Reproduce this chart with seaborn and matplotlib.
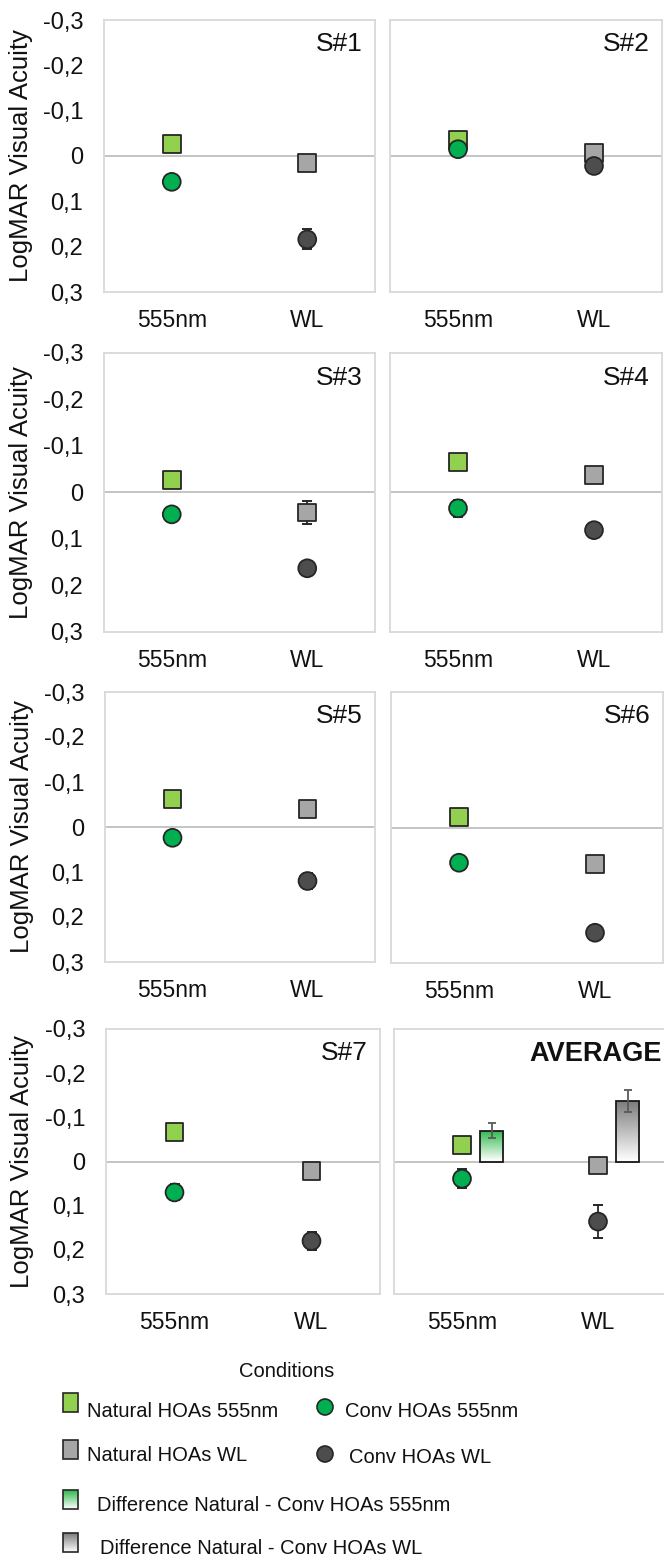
import numpy as np
import pandas as pd
import matplotlib
matplotlib.use("Agg")
import matplotlib.pyplot as plt
from matplotlib.colors import LinearSegmentedColormap
from matplotlib.patches import Rectangle, Circle
import seaborn as sns

# --- data (LogMAR, negative = better) ---
subjects = ["S#1", "S#2", "S#3", "S#4", "S#5", "S#6", "S#7", "AVERAGE"]
conditions = ["555nm", "WL"]

nat_555 = [-0.026, -0.035, -0.026, -0.066, -0.062, -0.024, -0.066, -0.038]
nat_wl = [0.015, -0.007, 0.043, -0.038, -0.040, 0.080, 0.022, 0.009]
conv_555 = [0.057, -0.015, 0.047, 0.034, 0.024, 0.078, 0.070, 0.039]
conv_wl = [0.184, 0.022, 0.163, 0.081, 0.120, 0.233, 0.180, 0.136]

nat_555_err = [0, 0, 0, 0, 0, 0, 0, 0]
nat_wl_err = [0, 0, 0.024, 0, 0.018, 0, 0, 0]
conv_555_err = [0, 0, 0, 0.018, 0, 0, 0.018, 0.022]
conv_wl_err = [0.022, 0, 0, 0, 0.018, 0, 0.02, 0.037]

# average difference Natural - Conv (bars, AVERAGE panel only)
diff_avg = [-0.070, -0.136]
diff_avg_err = [0.017, 0.025]

series = ["Natural HOAs 555nm", "Natural HOAs WL", "Conv HOAs 555nm", "Conv HOAs WL"]
series_cond = [0, 1, 0, 1]
series_vals = [nat_555, nat_wl, conv_555, conv_wl]
series_errs = [nat_555_err, nat_wl_err, conv_555_err, conv_wl_err]

colors = {"Natural HOAs 555nm": "#92D050", "Natural HOAs WL": "#A6A6A6",
          "Conv HOAs 555nm": "#00B050", "Conv HOAs WL": "#4D4D4D"}
markers = {"Natural HOAs 555nm": "s", "Natural HOAs WL": "s",
           "Conv HOAs 555nm": "o", "Conv HOAs WL": "o"}

rows = []
for name, c, vals, errs in zip(series, series_cond, series_vals, series_errs):
    for subj, v, e in zip(subjects, vals, errs):
        rows.append({"subject": subj, "series": name, "pos": c, "value": v, "err": e})
df = pd.DataFrame(rows)

sns.set_style("white")
plt.rcParams["font.family"] = ["Liberation Sans", "DejaVu Sans"]

W, H = 664, 1558
fig = plt.figure(figsize=(W / 100, H / 100), dpi=100)

# panel boxes in pixels: left, top, width, height
panel_px = [(104, 20, 271, 272), (390, 20, 272, 272),
            (104, 353, 271, 279), (390, 353, 272, 279),
            (105, 692, 270, 270), (391, 692, 272, 271),
            (106, 1029, 274, 265), (394, 1029, 272, 265)]

green_cmap = LinearSegmentedColormap.from_list("g", ["#2DB84A", "#FFFFFF"])
grey_cmap = LinearSegmentedColormap.from_list("k", ["#7A7A7A", "#FFFFFF"])
grad = np.linspace(0, 1, 256).reshape(-1, 1)

ytick_vals = [-0.3, -0.2, -0.1, 0, 0.1, 0.2, 0.3]
ytick_labels = ["-0,3", "-0,2", "-0,1", "0", "0,1", "0,2", "0,3"]

for i, (subj, (l, t, w, h)) in enumerate(zip(subjects, panel_px)):
    ax = fig.add_axes([l / W, 1 - (t + h) / H, w / W, h / H])
    d = df[df["subject"] == subj]

    ax.axhline(0, color="#BFBFBF", lw=1.3, zorder=1)

    de = d[d["err"] > 0]
    ax.errorbar(de["pos"], de["value"], yerr=de["err"], fmt="none", ecolor="#262626",
                elinewidth=1.3, capsize=3.3, capthick=1.4, zorder=3)

    sns.scatterplot(data=d, x="pos", y="value", hue="series", style="series",
                    palette=colors, markers=markers, s=165, edgecolor="#262626",
                    linewidth=1.3, legend=False, ax=ax, zorder=4)

    if subj == "AVERAGE":
        bar_x = np.arange(len(conditions)) + 0.22
        bars = ax.bar(bar_x, diff_avg, width=0.17, bottom=0, facecolor="none",
                      edgecolor="#1A1A1A", linewidth=1.3, zorder=5)
        for b, cmap in zip(bars, [green_cmap, grey_cmap]):
            x0 = b.get_x()
            x1 = x0 + b.get_width()
            im = ax.imshow(grad, cmap=cmap, aspect="auto", origin="upper",
                           extent=(x0, x1, 0, b.get_height()), zorder=4.5)
            im.set_clip_path(b)
        ax.errorbar(bar_x, diff_avg, yerr=diff_avg_err, fmt="none", ecolor="#5A5A5A",
                    elinewidth=1.3, capsize=3, capthick=1.3, zorder=6)
        ax.text(0.985, 0.955, subj, transform=ax.transAxes, ha="right", va="top",
                fontsize=19.5, fontweight="bold", color="#111111")
    else:
        ax.text(0.955, 0.955, subj, transform=ax.transAxes, ha="right", va="top",
                fontsize=19, color="#111111")

    ax.set_xlim(-0.5, 1.5)
    ax.set_ylim(0.3, -0.3)
    ax.set_xticks(range(len(conditions)))
    ax.set_xticklabels(conditions, fontsize=16.5, color="#111111")
    ax.set_yticks(ytick_vals)
    ax.tick_params(axis="both", length=0)
    ax.tick_params(axis="x", pad=12)
    ax.set_xlabel("")
    if i % 2 == 0:
        ax.set_yticklabels(ytick_labels, fontsize=17, color="#111111")
        ax.tick_params(axis="y", pad=15)
        ax.set_ylabel("LogMAR Visual Acuity", fontsize=18.5, color="#111111")
        ax.yaxis.set_label_coords(-0.262, 0.5)
    else:
        ax.set_yticklabels([])
        ax.set_ylabel("")
    for sp in ax.spines.values():
        sp.set_visible(True)
        sp.set_color("#D9D9D9")
        sp.set_linewidth(1.3)

# --- legend drawn in pixel coordinates ---
lax = fig.add_axes([0, 0, 1, 1])
lax.set_xlim(0, W)
lax.set_ylim(H, 0)
lax.axis("off")

lax.text(287, 1377, "Conditions", ha="center", va="baseline", fontsize=14.5, color="#111111")

fs = 14.5
lax.add_patch(Rectangle((63, 1393), 15, 19, facecolor=colors["Natural HOAs 555nm"],
                        edgecolor="#262626", lw=1.2))
lax.text(87, 1417, "Natural HOAs 555nm", va="baseline", fontsize=fs, color="#111111")
lax.add_patch(Circle((325, 1407), 8, facecolor=colors["Conv HOAs 555nm"],
                     edgecolor="#262626", lw=1.2))
lax.text(345, 1417, "Conv HOAs 555nm", va="baseline", fontsize=fs, color="#111111")

lax.add_patch(Rectangle((63, 1440), 15, 19, facecolor=colors["Natural HOAs WL"],
                        edgecolor="#262626", lw=1.2))
lax.text(87, 1461, "Natural HOAs WL", va="baseline", fontsize=fs, color="#111111")
lax.add_patch(Circle((325, 1454), 8, facecolor=colors["Conv HOAs WL"],
                     edgecolor="#262626", lw=1.2))
lax.text(349, 1463, "Conv HOAs WL", va="baseline", fontsize=fs, color="#111111")

for (y0, cmap, label, tx) in [(1490, green_cmap, "Difference Natural - Conv HOAs 555nm", 97),
                              (1533, grey_cmap, "Difference Natural - Conv HOAs WL", 100)]:
    lax.imshow(grad, cmap=cmap, aspect="auto", origin="upper",
               extent=(63, 78, y0 + 19, y0), zorder=2)
    lax.add_patch(Rectangle((63, y0), 15, 19, facecolor="none", edgecolor="#262626",
                            lw=1.2, zorder=3))
    lax.text(tx, y0 + 21, label, va="baseline", fontsize=fs, color="#111111")

lax.set_xlim(0, W)
lax.set_ylim(H, 0)

fig.savefig("out.png", dpi=100)
